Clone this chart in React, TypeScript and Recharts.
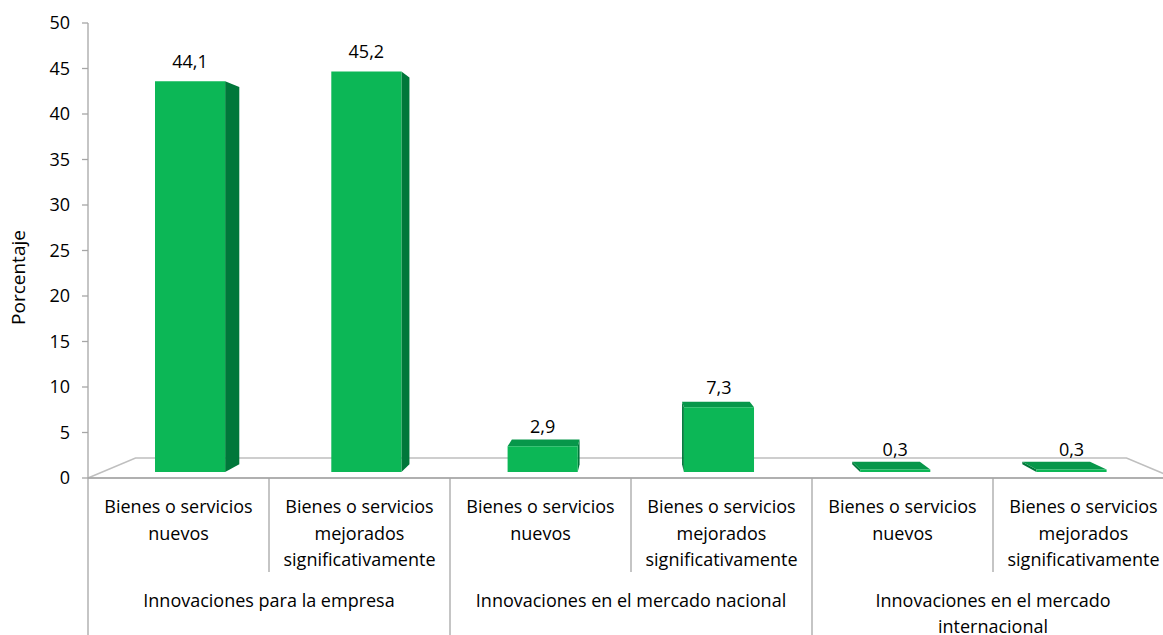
import React from "react";
import { BarChart, Bar, XAxis, YAxis, LabelList, ReferenceArea } from "recharts";

// ---------- data ----------
const subCategories = [
  "Bienes o servicios nuevos",
  "Bienes o servicios mejorados significativamente",
  "Bienes o servicios nuevos",
  "Bienes o servicios mejorados significativamente",
  "Bienes o servicios nuevos",
  "Bienes o servicios mejorados significativamente",
];
const groupCategories = [
  "Innovaciones para la empresa",
  "Innovaciones para la empresa",
  "Innovaciones en el mercado nacional",
  "Innovaciones en el mercado nacional",
  "Innovaciones en el mercado internacional",
  "Innovaciones en el mercado internacional",
];
const percentValues = [44.1, 45.2, 2.9, 7.3, 0.3, 0.3];
const yTicks = [0, 5, 10, 15, 20, 25, 30, 35, 40, 45, 50];
const yAxisTitle = "Porcentaje";

const data = subCategories.map((s, i) => ({ sub: s, grp: groupCategories[i], value: percentValues[i] }));

// ---------- layout / style ----------
const CHART_W = 1180;
const CHART_H = 635;
const M_TOP = 23;
const M_LEFT = 28;
const M_RIGHT = 6;
const Y_AXIS_W = 60;
const SUB_AXIS_H = 94;
const GRP_AXIS_H = 63;
const PLOT_LEFT = M_LEFT + Y_AXIS_W;
const PLOT_W = CHART_W - PLOT_LEFT - M_RIGHT;
const BAND = PLOT_W / subCategories.length;
const VX = PLOT_LEFT + PLOT_W / 2; // perspective vanishing x
const VY = M_TOP + 226; // horizon
const S_FRONT = 0.974;
const S_BACK = 0.94;
const S_FLOOR = 0.9125;
const FONT = "'Open Sans', 'Noto Sans', sans-serif";
const FS = 18;
const AXIS_COLOR = "#a6a6a6";
const FLOOR_COLOR = "#bfbfbf";
const C_FRONT = "#0cb756";
const C_SIDE = "#00773a";
const C_TOP = "#07974a";

const P = (px: number, py: number, s: number) => [VX + (px - VX) * s, VY + (py - VY) * s];
const pts = (arr: number[][]) => arr.map((p) => `${p[0]},${p[1]}`).join(" ");

function wrap(text: string, maxChars: number): string[] {
  const words = text.split(" ");
  const lines: string[] = [];
  let cur = "";
  for (const w of words) {
    const next = cur ? cur + " " + w : w;
    if (next.length > maxChars && cur) {
      lines.push(cur);
      cur = w;
    } else cur = next;
  }
  if (cur) lines.push(cur);
  return lines;
}

const Bar3D = (props: any) => {
  const { x, y, width, height } = props;
  if (x == null || y == null) return null;
  const y0 = y + height;
  const x1 = x + width;
  const TLf = P(x, y, S_FRONT), TRf = P(x1, y, S_FRONT), BRf = P(x1, y0, S_FRONT), BLf = P(x, y0, S_FRONT);
  const TLb = P(x, y, S_BACK), TRb = P(x1, y, S_BACK), BRb = P(x1, y0, S_BACK), BLb = P(x, y0, S_BACK);
  return (
    <g>
      {x1 < VX && <polygon points={pts([TRf, TRb, BRb, BRf])} fill={C_SIDE} />}
      {x > VX && <polygon points={pts([TLf, TLb, BLb, BLf])} fill={C_SIDE} />}
      {y > VY && <polygon points={pts([TLf, TRf, TRb, TLb])} fill={C_TOP} />}
      <polygon points={pts([TLf, TRf, BRf, BLf])} fill={C_FRONT} />
    </g>
  );
};

const ValueLabel = (props: any) => {
  const vb = props.viewBox && props.viewBox.x != null ? props.viewBox : props;
  const { x, y, width } = vb;
  const [cx, cy] = P(x + width / 2, y, S_FRONT);
  const txt = Number(props.value).toFixed(1).replace(".", ",");
  return (
    <text x={cx} y={cy - 13} textAnchor="middle" fontFamily={FONT} fontSize={FS} fill="#000">
      {txt}
    </text>
  );
};

const Floor = (props: any) => {
  const { x, y, width, height } = props;
  const base = y + height;
  const xr = x + width;
  const fl = [x, base], fr = [xr, base];
  const bl = P(x, base, S_FLOOR), br = P(xr, base, S_FLOOR);
  return (
    <g>
      <polygon points={pts([fl, bl, br, fr])} fill="#fff" stroke={FLOOR_COLOR} strokeWidth={1.5} />
    </g>
  );
};

const SubTick = (props: any) => {
  const { x, y, payload, index } = props;
  const half = BAND / 2;
  const lines = wrap(String(payload.value), 18);
  const last = index === subCategories.length - 1;
  return (
    <g>
      <line x1={x - half} y1={y} x2={x - half} y2={index % 2 === 0 ? CHART_H : y + SUB_AXIS_H} stroke={AXIS_COLOR} strokeWidth={1.3} />
      {last && <line x1={x + half} y1={y} x2={x + half} y2={CHART_H} stroke={AXIS_COLOR} strokeWidth={1.3} />}
      <text textAnchor="middle" fontFamily={FONT} fontSize={FS} fill="#000">
        {lines.map((l, i) => (
          <tspan key={i} x={x} y={y + 35 + i * 26.5}>
            {l}
          </tspan>
        ))}
      </text>
    </g>
  );
};

const GroupTick = (props: any) => {
  const { x, y, payload, index } = props;
  if (index % 2 !== 0) return null;
  const cx = x + BAND / 2;
  const lines = wrap(String(payload.value), 36);
  return (
    <text textAnchor="middle" fontFamily={FONT} fontSize={FS} fill="#000">
      {lines.map((l, i) => (
        <tspan key={i} x={cx} y={y + 35 + i * 26}>
          {l}
        </tspan>
      ))}
    </text>
  );
};

const YTitle = (props: any) => {
  const vb = props.viewBox || { x: M_LEFT, y: M_TOP, width: Y_AXIS_W, height: 455 };
  const x = vb.x - 3;
  const y = vb.y + vb.height / 2 + 27;
  return (
    <text x={x} y={y} transform={`rotate(-90, ${x}, ${y})`} textAnchor="middle" fontFamily={FONT} fontSize={19} fill="#000">
      {yAxisTitle}
    </text>
  );
};

export default function App() {
  return (
    <div style={{ position: "fixed", left: 0, top: 0, width: 1163, height: 635, overflow: "hidden", background: "#fff", fontFamily: FONT }}>
      <BarChart
        width={CHART_W}
        height={CHART_H}
        data={data}
        margin={{ top: M_TOP, right: M_RIGHT, left: M_LEFT, bottom: 0 }}
        barCategoryGap="30%"
      >
        <ReferenceArea y1={0} y2={1} ifOverflow="visible" shape={Floor} />
        <XAxis
          dataKey="sub"
          height={SUB_AXIS_H}
          interval={0}
          tickLine={false}
          tickSize={0}
          tickMargin={0}
          axisLine={{ stroke: AXIS_COLOR, strokeWidth: 1.3 }}
          tick={SubTick}
        />
        <XAxis
          xAxisId="grp"
          dataKey="grp"
          height={GRP_AXIS_H}
          interval={0}
          tickLine={false}
          tickSize={0}
          tickMargin={0}
          axisLine={false}
          tick={GroupTick}
        />
        <YAxis
          width={Y_AXIS_W}
          domain={[0, 50]}
          ticks={yTicks}
          interval={0}
          tickSize={6}
          tickMargin={12}
          axisLine={{ stroke: AXIS_COLOR, strokeWidth: 1.3 }}
          tickLine={{ stroke: AXIS_COLOR, strokeWidth: 1.3 }}
          tick={{ fill: "#000", fontSize: FS, fontFamily: FONT }}
          label={{ content: YTitle }}
        />
        <Bar dataKey="value" isAnimationActive={false} shape={Bar3D}>
          <LabelList dataKey="value" content={ValueLabel} />
        </Bar>
      </BarChart>
    </div>
  );
}
